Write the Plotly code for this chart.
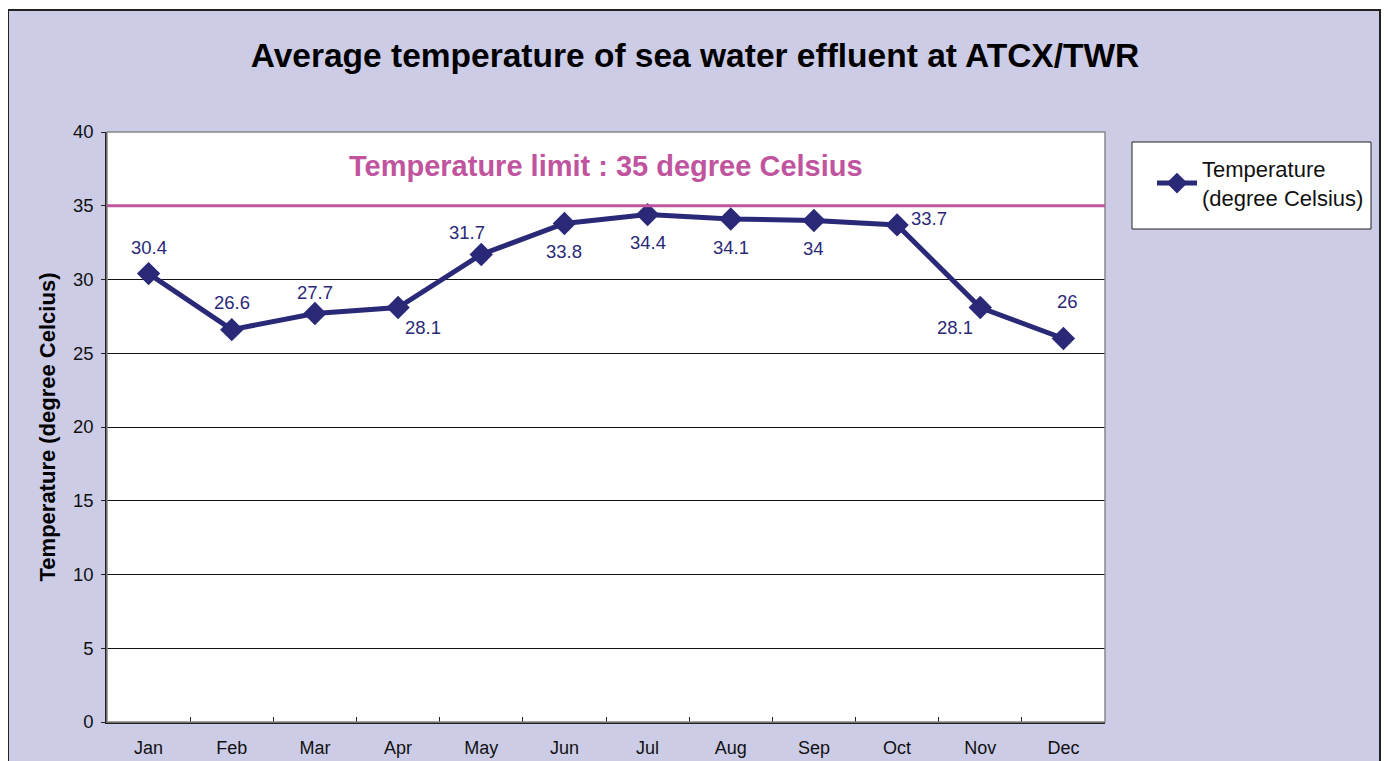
import plotly.graph_objects as go

months = ["Jan", "Feb", "Mar", "Apr", "May", "Jun", "Jul", "Aug", "Sep", "Oct", "Nov", "Dec"]
temps = [30.4, 26.6, 27.7, 28.1, 31.7, 33.8, 34.4, 34.1, 34, 33.7, 28.1, 26]
labels = ["30.4", "26.6", "27.7", "28.1", "31.7", "33.8", "34.4", "34.1", "34", "33.7", "28.1", "26"]
limit = 35
y_ticks = [0, 5, 10, 15, 20, 25, 30, 35, 40]

# label offsets (pixels) relative to the marker
label_dx = [0, 0, 0, 25, -14, 0, 0, 0, 0, 32, -25, 4]
label_dy = [-26, -27, -21, 20, -22, 28, 28, 28, 28, -6, 20, -37]

# page has an 8px body margin; figure coordinates are page coordinates - 8
W, H = 1381, 753
ML, MR, MT, MB = 99, 284, 124, 39
PW, PH = W - ML - MR, H - MT - MB

NAVY = "rgb(42,41,120)"
MAG = "rgb(192,84,158)"
LAV = "rgb(204,204,230)"
FONT = "Arial, Liberation Sans, sans-serif"


def px_x(x):
    return (x - ML) / PW


def px_y(y):
    return (H - MB - y) / PH


fig = go.Figure()
fig.add_trace(go.Scatter(
    x=months, y=temps, mode="lines+markers",
    name="Temperature<br>(degree Celsius)",
    line=dict(color=NAVY, width=5),
    marker=dict(symbol="diamond", size=18, color=NAVY),
))

annotations = []
for m, v, t, dx, dy in zip(months, temps, labels, label_dx, label_dy):
    annotations.append(dict(x=m, y=v, text=t, showarrow=False, xshift=dx, yshift=-dy,
                            font=dict(family=FONT, size=18.5, color=NAVY)))
annotations.append(dict(xref="paper", yref="y", x=0.5, y=limit, yshift=40, showarrow=False,
                        text="<b>Temperature limit : 35 degree Celsius</b>",
                        font=dict(family=FONT, size=29, color=MAG)))

shapes = [
    # lavender chart area with black frame
    dict(type="rect", xref="paper", yref="paper", layer="below",
         x0=px_x(0), x1=px_x(1372), y0=px_y(800), y1=px_y(2),
         fillcolor=LAV, line=dict(color="#222222", width=2)),
    # white plot area
    dict(type="rect", xref="paper", yref="paper", layer="below",
         x0=0, x1=1, y0=0, y1=1, fillcolor="white", line=dict(width=0)),
    # grey plot frame
    dict(type="rect", xref="paper", yref="paper", x0=0, x1=1, y0=0, y1=1,
         line=dict(color="#888888", width=1.5)),
    # limit line
    dict(type="line", xref="paper", yref="y", x0=0, x1=1, y0=limit, y1=limit,
         line=dict(color=MAG, width=3)),
    # legend box
    dict(type="rect", xref="paper", yref="paper", layer="above",
         x0=px_x(1124), x1=px_x(1363), y0=px_y(221), y1=px_y(134),
         fillcolor="white", line=dict(color="#222222", width=1)),
]

fig.update_layout(
    width=W, height=H,
    margin=dict(l=ML, r=MR, t=MT, b=MB, autoexpand=False),
    paper_bgcolor="white", plot_bgcolor="white",
    title=dict(text="<b>Average temperature of sea water effluent at ATCX/TWR</b>",
               xref="container", x=687 / W, xanchor="center",
               yref="container", y=1 - 47 / H, yanchor="middle",
               font=dict(family=FONT, size=33.5, color="black")),
    font=dict(family=FONT, color="#222222"),
    showlegend=True,
    legend=dict(x=px_x(1144), y=px_y(140), xanchor="left", yanchor="top",
                bgcolor="rgba(0,0,0,0)", borderwidth=0, itemwidth=40,
                font=dict(family=FONT, size=22, color="#111111")),
    annotations=annotations,
    shapes=shapes,
)
fig.update_xaxes(type="category", tickson="boundaries", ticks="inside", ticklen=5,
                 tickcolor="#222222", showline=True, linecolor="#222222", linewidth=1.5,
                 showgrid=False, tickfont=dict(size=18, color="#111111"), range=[-0.5, 11.5],
                 ticklabelstandoff=9, automargin=False)
fig.update_yaxes(range=[0, 40], tickvals=y_ticks, ticks="outside", ticklen=4,
                 tickcolor="#222222", showline=True, linecolor="#222222", linewidth=1.5,
                 showgrid=True, gridcolor="#111111", gridwidth=1, zeroline=False,
                 tickfont=dict(size=18.5, color="#111111"), ticklabelstandoff=4,
                 automargin=False,
                 title=dict(text="<b>Temperature (degree Celcius)</b>", standoff=11,
                            font=dict(family=FONT, size=22, color="black")))

fig.write_html("out.html")
